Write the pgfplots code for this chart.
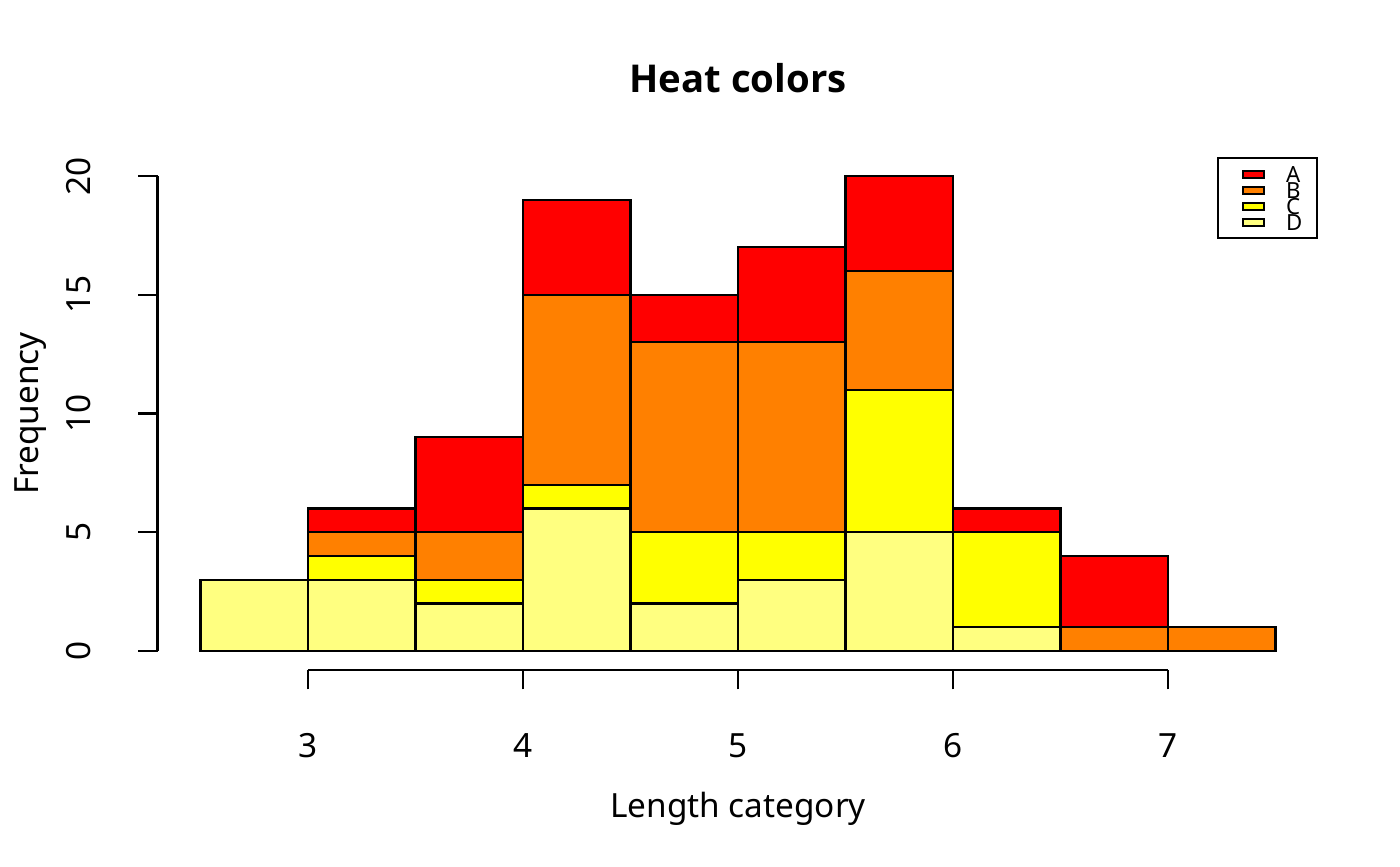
\documentclass[border=0pt]{standalone}
\usepackage{fontspec}
\setmainfont{Noto Sans}
\newfontfamily\titlefont{Open Sans}
\usepackage{pgfplots}
\pgfplotsset{compat=1.18}
\usepackage{pgfplotstable}
\definecolor{hA}{HTML}{FF0000}
\definecolor{hB}{HTML}{FF8000}
\definecolor{hC}{HTML}{FFFF00}
\definecolor{hD}{HTML}{FFFF80}
\pgfplotstableread{
x    D C B A
2.75 3 0 0 0
3.25 3 1 1 1
3.75 2 1 2 4
4.25 6 1 8 4
4.75 2 3 8 2
5.25 3 2 8 4
5.75 5 6 5 4
6.25 1 4 0 1
6.75 0 0 1 3
7.25 0 0 1 0
}\data
\pgfplotsset{mylegend/.style={legend image code/.code={\path (0pt,0pt); \draw[##1] (3.24pt,-1.26pt) rectangle (10.8pt,1.26pt);}}}
\begin{document}
\begin{tikzpicture}
\useasboundingbox (0,0) rectangle (504pt,311.76pt);
\begin{axis}[
  at={(56.7pt,70.56pt)}, anchor=south west,
  scale only axis, width=417.96pt, height=184.68pt,
  xmin=2.3, xmax=7.7, ymin=-0.8, ymax=20.8,
  axis lines*=left, axis line style={draw=none},
  tick align=outside, major tick length=7pt,
  tick style={black, line width=0.75pt},
  xtick={3,4,5,6,7}, ytick={0,5,10,15,20},
  minor tick num=0,
  /pgf/number format/assume math mode=true,
  ticklabel style={font=\fontsize{12}{14}\selectfont},
  xticklabel style={anchor=base, yshift=-24.48pt},
  yticklabel style={xshift=-17.28pt, rotate=90, anchor=base},
  ybar stacked, bar width=0.5, bar shift=0pt,
  clip=false,
  reverse legend,
  legend cell align=left,
  legend style={at={(rel axis cs:1,1)}, anchor=north east, draw=black, line width=0.75pt,
    inner xsep=5.4pt, inner ysep=2.88pt, row sep=0pt, column sep=7.6pt,
    font=\fontsize{8}{8}\selectfont,
    nodes={inner sep=0pt, text height=5.76pt, text depth=0pt}},
]
\addplot[fill=hD, draw=black, line width=0.75pt, mylegend] table[x=x, y=D]{\data};
\addplot[fill=hC, draw=black, line width=0.75pt, mylegend] table[x=x, y=C]{\data};
\addplot[fill=hB, draw=black, line width=0.75pt, mylegend] table[x=x, y=B]{\data};
\addplot[fill=hA, draw=black, line width=0.75pt, mylegend] table[x=x, y=A]{\data};
\legend{D,C,B,A}
\draw[line width=0.75pt] (axis cs:3,-0.8) -- (axis cs:7,-0.8);
\draw[line width=0.75pt] (axis cs:2.3,0) -- (axis cs:2.3,20);
\end{axis}
\node[anchor=base, font=\titlefont\bfseries\fontsize{13.8}{17}\selectfont] at (265.68pt,278.64pt) {Heat colors};
\node[anchor=base, font=\fontsize{12}{14}\selectfont] at (265.68pt,17.64pt) {Length category};
\node[anchor=base, rotate=90, font=\fontsize{12}{14}\selectfont] at (13.68pt,162.9pt) {Frequency};
\end{tikzpicture}
\end{document}
